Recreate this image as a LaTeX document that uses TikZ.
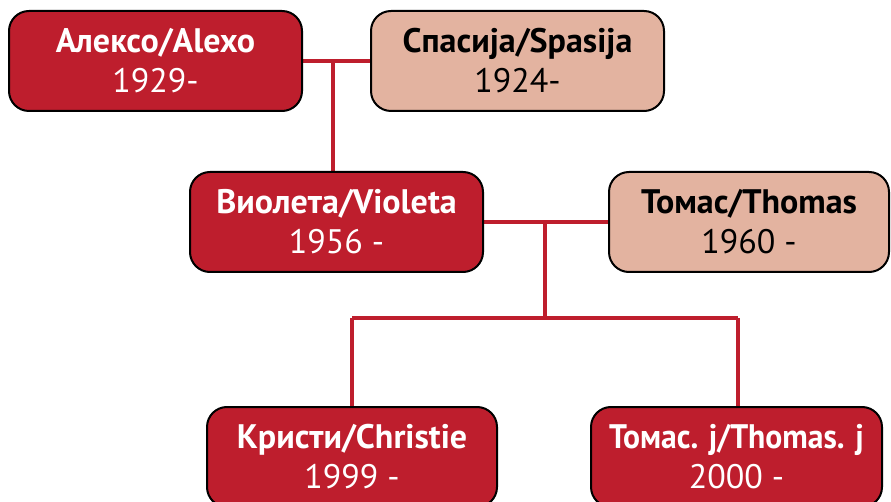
\documentclass[tikz,border=0pt]{standalone}
\usepackage{fontspec}
\setmainfont{PT Sans}
\usetikzlibrary{backgrounds}
\definecolor{famred}{HTML}{BE1E2D}
\definecolor{fampeach}{HTML}{E3B3A0}
\newcommand{\pname}[2]{{\bfseries #1}\\#2}
\tikzset{
  person/.style={draw=black, line width=2pt, rounded corners=20pt, minimum height=100pt, align=center, inner sep=0pt, font=\fontsize{34}{40}\selectfont},
  redp/.style={person, fill=famred, text=white},
  peachp/.style={person, fill=fampeach, text=black},
  link/.style={draw=famred, line width=4pt}
}
\begin{document}
\begin{tikzpicture}[x=1pt,y=-1pt]
\useasboundingbox (0,0) rectangle (891,502);
\clip (0,0) rectangle (891,502);
\node[redp, minimum width=293pt] (alexo) at (155.5,61) {\pname{Алексо/Alexo}{1929-}};
\node[peachp, minimum width=293pt] (spasija) at (517.5,61) {\pname{Спасија/Spasija}{1924-}};
\node[redp, minimum width=293pt] (violeta) at (336.5,222) {\pname{Виолета/Violeta}{1956 -}};
\node[peachp, minimum width=280pt] (thomas) at (749,222) {\pname{Томас/Thomas}{1960 -}};
\node[redp, minimum width=290pt] (kristi) at (352,457) {\pname{Кристи/Christie}{1999 -}};
\node[redp, minimum width=291pt] (thomasj) at (736.5,457) {\pname{\scalebox{0.93}[1]{Томас. j/Thomas. j}}{2000 -}};
\coordinate (m1) at (333,61);
\coordinate (m2) at (545,222);
\coordinate (cl) at (352,318);
\coordinate (cr) at (738,318);
\begin{pgfonlayer}{background}
\draw[link] (alexo.east) -- (spasija.west);
\draw[link] (m1) -- (m1 |- violeta.north);
\draw[link] (violeta.east) -- (thomas.west);
\draw[link] (m2) -- (m2 |- cl);
\draw[link] (cl) -- (cr);
\draw[link] (cl) -- (cl |- kristi.north);
\draw[link] (cr) -- (cr |- thomasj.north);
\end{pgfonlayer}
\end{tikzpicture}
\end{document}
